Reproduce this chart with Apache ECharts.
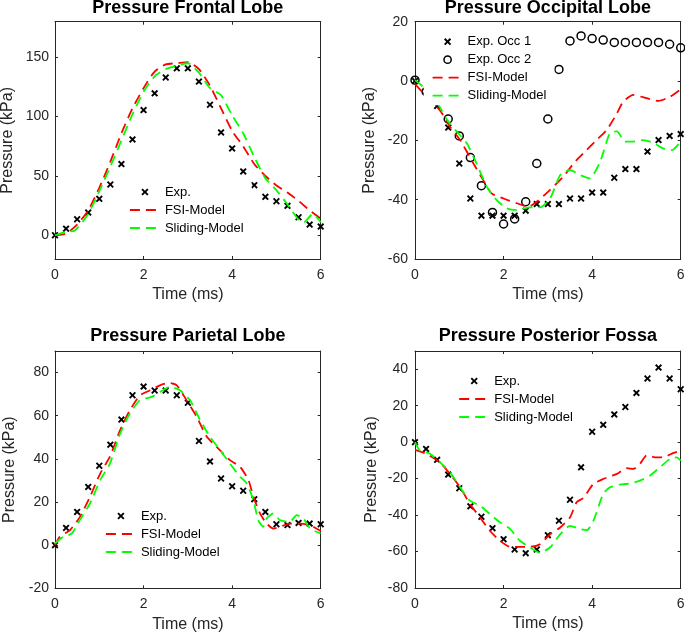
<!DOCTYPE html>
<html><head><meta charset="utf-8">
<script src="https://cdn.jsdelivr.net/npm/echarts@6/dist/echarts.min.js"></script>
<style>html,body{margin:0;padding:0;background:#fff}#c{width:685px;height:634px}</style>
</head><body><div id="c"></div>
<script>
// ---------- data ----------
const expTime = [0,0.25,0.5,0.75,1,1.25,1.5,1.75,2,2.25,2.5,2.75,3,3.25,3.5,3.75,4,4.25,4.5,4.75,5,5.25,5.5,5.75,6];
const timeTicks = [0,2,4,6];

const frontalTicks = [0,50,100,150];
const frontalExp = [0,5.6,13.5,19.1,30.7,42.8,60,80.8,105.5,119.6,133,140.7,140.7,129.5,110,86.7,73.2,53.8,42.2,32.4,28.7,24.8,15.2,9,7.3];
const frontalFsi = [[0,0],[0.25,1.5],[0.5,9],[0.75,21],[1,40],[1.25,62],[1.5,86],[1.75,107],[2,124],[2.25,138],[2.5,144],[2.75,145],[3,146],[3.25,140],[3.5,126],[3.75,107],[4,88],[4.25,75],[4.5,60],[4.75,50],[5,42],[5.25,36],[5.5,29],[5.75,21],[6,14]];
const frontalSliding = [[0,0],[0.25,3],[0.45,4],[0.75,18],[1,37],[1.25,58],[1.5,80],[1.75,102],[2,121],[2.25,134],[2.5,140],[2.75,143],[3,145],[3.25,137],[3.5,124],[3.75,118],[4,101],[4.25,86],[4.5,66],[4.75,48],[5,38],[5.25,26],[5.5,13],[5.62,11],[5.82,18],[6,11]];

const occTicks = [-60,-40,-20,0,20];
const occExp1 = [0,-3.5,-8.4,-15.7,-27.8,-39.6,-45.4,-45.4,-45.4,-45.4,-43.7,-41.5,-41.5,-41.5,-39.6,-39.6,-37.6,-37.6,-32.6,-29.7,-29.7,-23.8,-19.9,-18.5,-17.9];
const occExp2 = [0.3,-3.6,null,-12.8,-18.5,-25.8,-35.3,-44.3,-48.2,-46.5,-40.7,-27.8,-12.8,3.9,13.5,15.2,14.3,13.8,13,13,13,13,13,12.4,11.2];
const occFsi = [[0,-1],[0.26,-5.3],[0.56,-9.8],[0.79,-15.4],[1.02,-19.9],[1.32,-27.8],[1.54,-33.4],[1.73,-37.9],[2,-39.6],[2.3,-41.2],[2.56,-42.4],[2.75,-40.7],[3.05,-36.7],[3.35,-32.2],[3.58,-27.8],[3.8,-24.4],[4.1,-19.9],[4.33,-16.5],[4.56,-10.9],[4.7,-7],[4.93,-4.7],[5.23,-5.8],[5.5,-6.7],[5.76,-5.3],[6,-2.8]];
const occSliding = [[0,0.3],[0.15,-1.5],[0.45,-6],[0.72,-13],[0.94,-17],[1.17,-21],[1.39,-27.8],[1.62,-35.6],[1.84,-40.1],[2.07,-42.9],[2.3,-43.5],[2.6,-42.6],[2.82,-42.6],[3.05,-39.6],[3.28,-31.7],[3.5,-30],[3.73,-31.7],[3.95,-32.8],[4.18,-27.2],[4.4,-17.6],[4.56,-17],[4.74,-20.4],[4.93,-20.4],[5.16,-19.9],[5.38,-20.8],[5.6,-22.7],[5.8,-23.3],[6,-20.4]];

const parTicks = [-20,0,20,40,60,80];
const parExp = [0,8,15.4,27,36.8,46.6,58.2,69.5,73.5,71.7,71.7,69.5,66,48.3,38.8,30.9,27.3,25.2,21.3,15.4,9.7,9.3,10.3,10,9.7];
const parFsi = [[0,0],[0.11,3.9],[0.34,7],[0.56,13],[0.79,22.4],[1.02,33.2],[1.24,41],[1.47,53.3],[1.69,62.5],[1.92,69.5],[2.15,71.8],[2.37,74.1],[2.56,75.2],[2.75,74.1],[2.97,67.2],[3.2,59.5],[3.43,50.2],[3.65,45.6],[3.95,39.4],[4.18,36.3],[4.37,30.1],[4.48,22.4],[4.63,14.7],[4.78,10],[4.93,7.7],[5.08,8.5],[5.3,10],[5.53,10],[5.76,9.3],[6,6.6]];
const parSliding = [[0,0.8],[0.19,3.9],[0.38,5.4],[0.56,11.6],[0.79,19.3],[1.02,30.1],[1.24,37.8],[1.47,51.7],[1.69,61],[1.92,67.2],[2.18,68.7],[2.37,71],[2.6,73.4],[2.82,71.8],[3.05,67.2],[3.28,57.9],[3.5,50.2],[3.73,44],[3.95,37.8],[4.18,31.7],[4.33,28.6],[4.48,20.8],[4.59,11.6],[4.7,8.5],[4.78,12.4],[4.93,14.7],[5.08,11.6],[5.3,10.8],[5.46,13.9],[5.61,12.4],[5.76,7.7],[6,5.4]];

const fosTicks = [-80,-60,-40,-20,0,20,40];
const fosExp = [0,-3.7,-9.7,-17.8,-25.3,-35.2,-40.9,-47.2,-53.2,-58.9,-60.9,-58.9,-51,-43.1,-31.6,-13.8,5.7,9.5,15.2,19.3,27,34.9,40.9,34.9,29];
const fosFsi = [[0,-4.2],[0.26,-6.4],[0.56,-11],[0.79,-17.4],[1.02,-24.8],[1.24,-33.9],[1.47,-41.3],[1.69,-48.6],[1.92,-54.1],[2.15,-57.4],[2.37,-57.4],[2.6,-57.4],[2.82,-56],[3.05,-50.5],[3.28,-46.8],[3.5,-41.3],[3.65,-33],[3.8,-30.6],[4.03,-22.9],[4.25,-20.2],[4.56,-17.4],[4.78,-14.3],[4.93,-14.7],[5.08,-11.9],[5.23,-7.3],[5.42,-8.3],[5.6,-8.3],[5.84,-5.9],[6,-4.6]];
const fosSliding = [[0,0],[0.11,-4.6],[0.34,-6.4],[0.56,-11],[0.79,-16.5],[1.02,-24.8],[1.24,-32.1],[1.47,-34.9],[1.69,-39.4],[1.92,-44],[2.15,-47.7],[2.37,-54.1],[2.6,-57.8],[2.82,-60.6],[3.05,-57.8],[3.28,-50.5],[3.5,-45.9],[3.73,-47.7],[3.88,-48.3],[4.03,-43.1],[4.25,-28.4],[4.4,-24.8],[4.63,-23.3],[4.86,-22.6],[5.08,-21.1],[5.31,-18.3],[5.53,-13.8],[5.76,-9.2],[5.91,-8.3],[6,-10.1]];

// ---------- styles ----------
const FONT = '"Liberation Sans", Arial, Helvetica, sans-serif';
const AX = '#262626';
const XMARK = 'path://M0,1.9L1.9,0L5,3.1L8.1,0L10,1.9L6.9,5L10,8.1L8.1,10L5,6.9L1.9,10L0,8.1L3.1,5Z';
const markStyles = {
  x: {symbol: XMARK, size: 7, item: {color: '#000', borderWidth: 0}},
  o: {symbol: 'circle', size: 8, item: {color: 'transparent', borderColor: '#000', borderWidth: 1.5}}
};
const LINE_W = 1.8, DASH = [10, 6];
const models = [
  {name: 'FSI-Model', color: '#ff0000', key: 'fsi'},
  {name: 'Sliding-Model', color: '#00ff00', key: 'sliding'}
];

function pairs(vals) {
  const out = [];
  vals.forEach((v, i) => { if (v !== null) out.push([expTime[i], v]); });
  return out;
}

const panels = [
  {title: 'Pressure Frontal Lobe', grid: {left: 55, top: 21.7, width: 265.7, height: 237.3},
   yMin: -20, yMax: 180, yTicks: frontalTicks, titleTop: -0.5, nameGap: 39, labelMargin: 6,
   legend: {left: 121, top: 182.5},
   exp: [{name: 'Exp.', vals: frontalExp, mark: 'x'}], fsi: frontalFsi, sliding: frontalSliding},
  {title: 'Pressure Occipital Lobe', grid: {left: 415, top: 21.7, width: 265.7, height: 237.3},
   yMin: -60, yMax: 20, yTicks: occTicks, titleTop: -0.5, nameGap: 37, labelMargin: 7,
   legend: {left: 423.7, top: 32.2},
   exp: [{name: 'Exp. Occ 1', vals: occExp1, mark: 'x'}, {name: 'Exp. Occ 2', vals: occExp2, mark: 'o'}],
   fsi: occFsi, sliding: occSliding},
  {title: 'Pressure Parietal Lobe', grid: {left: 55, top: 351, width: 265.7, height: 237.3},
   yMin: -20, yMax: 90, yTicks: parTicks, titleTop: 327.5, nameGap: 37, labelMargin: 6,
   legend: {left: 97, top: 506.5},
   exp: [{name: 'Exp.', vals: parExp, mark: 'x'}], fsi: parFsi, sliding: parSliding},
  {title: 'Pressure Posterior Fossa', grid: {left: 415, top: 351, width: 265.7, height: 237},
   yMin: -80, yMax: 50, yTicks: fosTicks, titleTop: 327.5, nameGap: 35, labelMargin: 7,
   legend: {left: 450.3, top: 371.5},
   exp: [{name: 'Exp.', vals: fosExp, mark: 'x'}], fsi: fosFsi, sliding: fosSliding}
];

const option = {
  animation: false,
  backgroundColor: '#fff',
  textStyle: {fontFamily: FONT},
  title: [], grid: [], xAxis: [], yAxis: [], legend: [], series: []
};

panels.forEach((p, i) => {
  option.title.push({
    text: p.title, left: p.grid.left + p.grid.width / 2, top: p.titleTop, textAlign: 'center', padding: 0,
    textStyle: {fontSize: 18, fontWeight: 'bold', color: '#000', fontFamily: FONT}
  });
  option.grid.push(Object.assign({containLabel: false, outerBoundsMode: 'none'}, p.grid));
  const axLine = {show: true, onZero: false, lineStyle: {color: AX, width: 1}};
  const tick = (vals) => ({show: true, inside: true, length: 3, customValues: vals, lineStyle: {color: AX, width: 1}});
  option.xAxis.push({
    type: 'value', gridIndex: i, min: 0, max: 6, position: 'bottom',
    axisLine: axLine, axisTick: tick(timeTicks),
    axisLabel: {show: true, customValues: timeTicks, fontSize: 14, color: AX, margin: 9, fontFamily: FONT},
    splitLine: {show: false},
    name: 'Time (ms)', nameLocation: 'middle', nameGap: 28,
    nameTextStyle: {fontSize: 16, color: AX, fontFamily: FONT}
  });
  option.xAxis.push({
    type: 'value', gridIndex: i, min: 0, max: 6, position: 'top',
    axisLine: axLine, axisTick: tick(timeTicks), axisLabel: {show: false}, splitLine: {show: false}
  });
  option.yAxis.push({
    type: 'value', gridIndex: i, min: p.yMin, max: p.yMax, position: 'left',
    axisLine: axLine, axisTick: tick(p.yTicks),
    axisLabel: {show: true, customValues: p.yTicks, fontSize: 14, color: AX, margin: p.labelMargin, fontFamily: FONT},
    splitLine: {show: false},
    name: 'Pressure (kPa)', nameLocation: 'middle', nameGap: p.nameGap,
    nameTextStyle: {fontSize: 16, color: AX, fontFamily: FONT}
  });
  option.yAxis.push({
    type: 'value', gridIndex: i, min: p.yMin, max: p.yMax, position: 'right',
    axisLine: axLine, axisTick: tick(p.yTicks), axisLabel: {show: false}, splitLine: {show: false}
  });

  const legendData = [];
  p.exp.forEach(e => {
    const m = markStyles[e.mark];
    option.series.push({
      type: 'line', name: e.name, xAxisIndex: 2 * i, yAxisIndex: 2 * i,
      data: pairs(e.vals), symbol: m.symbol, symbolSize: m.size, showSymbol: true, showAllSymbol: true,
      lineStyle: {width: 0, color: 'transparent'}, itemStyle: m.item,
      emphasis: {disabled: true}, silent: true, z: 2
    });
    legendData.push({name: e.name, itemStyle: m.item, lineStyle: {color: 'transparent', width: 0}});
  });
  models.forEach(md => {
    option.series.push({
      type: 'line', name: md.name, xAxisIndex: 2 * i, yAxisIndex: 2 * i,
      data: p[md.key], symbol: 'none', smooth: 0.2,
      lineStyle: {color: md.color, width: LINE_W, type: DASH}, itemStyle: {color: md.color},
      emphasis: {disabled: true}, silent: true, z: 3
    });
    legendData.push({name: md.name,
      itemStyle: {color: 'transparent', borderColor: 'transparent', borderWidth: 0},
      lineStyle: {color: md.color, width: LINE_W, type: DASH}});
  });
  option.legend.push({
    left: p.legend.left, top: p.legend.top, orient: 'vertical',
    itemWidth: 30, itemHeight: 9, itemGap: 5, padding: [3, 8, 3, 8],
    backgroundColor: '#fff', selectedMode: false,
    textStyle: {fontSize: 13, color: '#000', fontFamily: FONT},
    data: legendData
  });
});

const chart = echarts.init(document.getElementById('c'), null, {renderer: 'canvas'});
chart.setOption(option);
</script>
</body></html>
